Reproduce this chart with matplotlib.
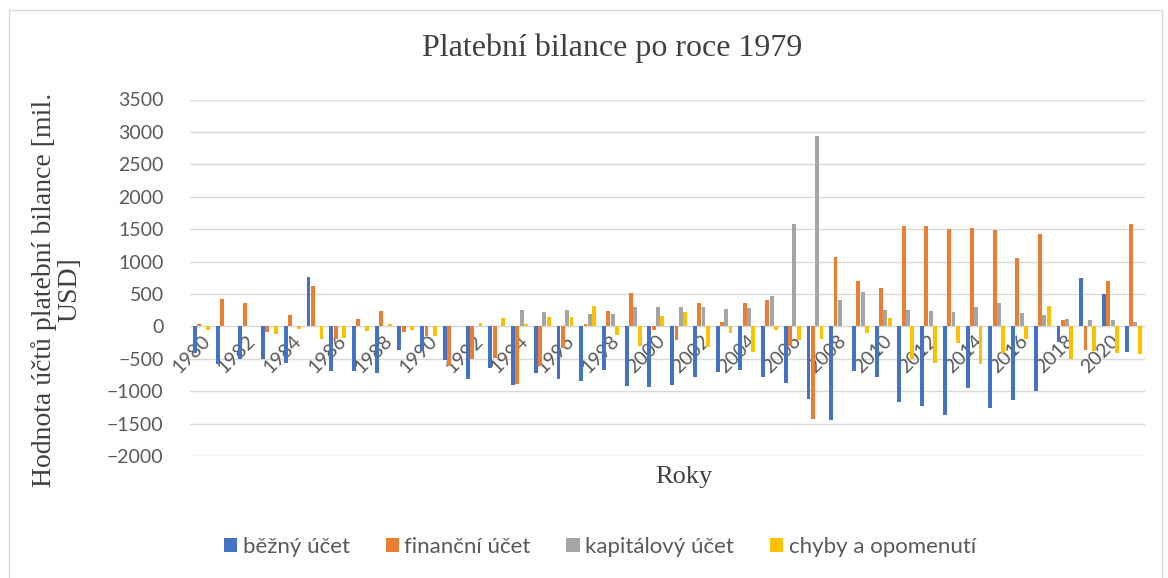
import matplotlib
matplotlib.use('Agg')
import matplotlib.pyplot as plt
import numpy as np
from matplotlib.patches import Patch, Rectangle

years = list(range(1980, 2022))
bezny_ucet = [-410, -587, -500, -500, -570, 755, -689, -689, -714, -357, -383, -520, -816, -638,
              -903, -724, -816, -840, -679, -918, -928, -900, -780, -704, -679, -775, -867, -1128,
              -1450, -694, -781, -1164, -1230, -1373, -949, -1257, -1129, -990, -236, 749, 492, -400]
financni_ucet = [40, 418, 357, -92, 178, 622, -189, 112, 240, -87, -153, -612, -510, -495,
                 -892, -612, -332, 30, 230, 520, -61, -214, 357, 61, 362, 403, -296, -1426,
                 1072, 706, 594, 1552, 1556, 1502, 1513, 1488, 1052, 1421, 103, -369, 703, 1580]
kapitalovy_ucet = [0, 0, 0, 0, 0, 0, 0, 0, 0, 0, 0, 0, 0, 0,
                   250, 224, 255, 189, 189, 301, 301, 301, 301, 265, 291, 469, 1583, 2932,
                   404, 532, 260, 252, 236, 226, 292, 359, 200, 174, 118, 103, 103, 62]
chyby = [-60, 5, 5, -112, -40, -189, -184, -77, 41, -51, -143, 5, 51, 122,
         41, 138, 143, 316, -138, -306, 158, 224, -321, -97, -398, -56, -214, -202,
         0, -110, 133, -510, -572, -254, -585, -415, -195, 308, -503, -385, -405, -431]

series = [bezny_ucet, financni_ucet, kapitalovy_ucet, chyby]
labels = ['běžný účet', 'finanční účet', 'kapitálový účet', 'chyby a opomenutí']
colors = ['#4472C4', '#ED7D31', '#A5A5A5', '#FFC000']

W, H = 1168, 578
fig = plt.figure(figsize=(W / 100, H / 100), dpi=100)

# light border around the chart area
fig.patches.append(Rectangle((9 / W, -0.05), 1153 / W, 1 - 10 / H + 0.05, transform=fig.transFigure,
                             fill=False, edgecolor='#D9D9D9', linewidth=1))

ax = fig.add_axes([190 / W, 1 - 456 / H, 954.5 / W, 356.5 / H])

x = np.arange(len(years))
bw = 0.19
for i, (vals, lab, col) in enumerate(zip(series, labels, colors)):
    ax.bar(x + (i - 1.5) * bw, vals, width=bw * 0.9, color=col, label=lab, zorder=2)

ax.set_xlim(-0.5, len(years) - 0.5)
ax.set_ylim(-2000, 3500)
yt = np.arange(-2000, 3501, 500)
ax.set_yticks(yt)
# gridlines below the bars, tick labels stay above them
for v in yt:
    ax.axhline(v, color='#D9D9D9', linewidth=1, zorder=0.5)

for s in ['top', 'right', 'left']:
    ax.spines[s].set_visible(False)
ax.spines['bottom'].set_position(('data', 0))
ax.spines['bottom'].set_color('#D9D9D9')
ax.spines['bottom'].set_zorder(1)

ax.set_xticks(x[::2])
ax.set_xticklabels([str(y) for y in years[::2]], rotation=45, ha='right', va='top',
                   rotation_mode='anchor', fontsize=14, color='#595959', family='Lato')
ax.tick_params(axis='x', length=0, pad=4)
ax.tick_params(axis='y', length=0, pad=19, labelsize=14, labelcolor='#595959')
for t in ax.get_yticklabels():
    t.set_family('Lato')

fig.text(612 / W, 1 - 48 / H, 'Platební bilance po roce 1979', ha='center', va='center',
         fontsize=23, family='Liberation Serif', color='#404040')
fig.text(57 / W, 1 - 290 / H, 'Hodnota účtů platební bilance [mil.\nUSD]', ha='center', va='center',
         rotation=90, multialignment='center', fontsize=20, family='Liberation Serif', color='#404040',
         linespacing=1.0)
fig.text(684 / W, 1 - 477 / H, 'Roky', ha='center', va='center',
         fontsize=19, family='Liberation Serif', color='#404040')

handles = [Patch(facecolor=c, label=l) for c, l in zip(colors, labels)]
leg = fig.legend(handles=handles, loc='center', bbox_to_anchor=(600 / W, 1 - 547 / H), ncol=4,
                 frameon=False, handlelength=0.6, handleheight=0.6, handletextpad=0.25,
                 columnspacing=1.6, prop={'family': 'Lato', 'size': 16})
for t in leg.get_texts():
    t.set_color('#595959')

fig.savefig('out.png', dpi=100)
